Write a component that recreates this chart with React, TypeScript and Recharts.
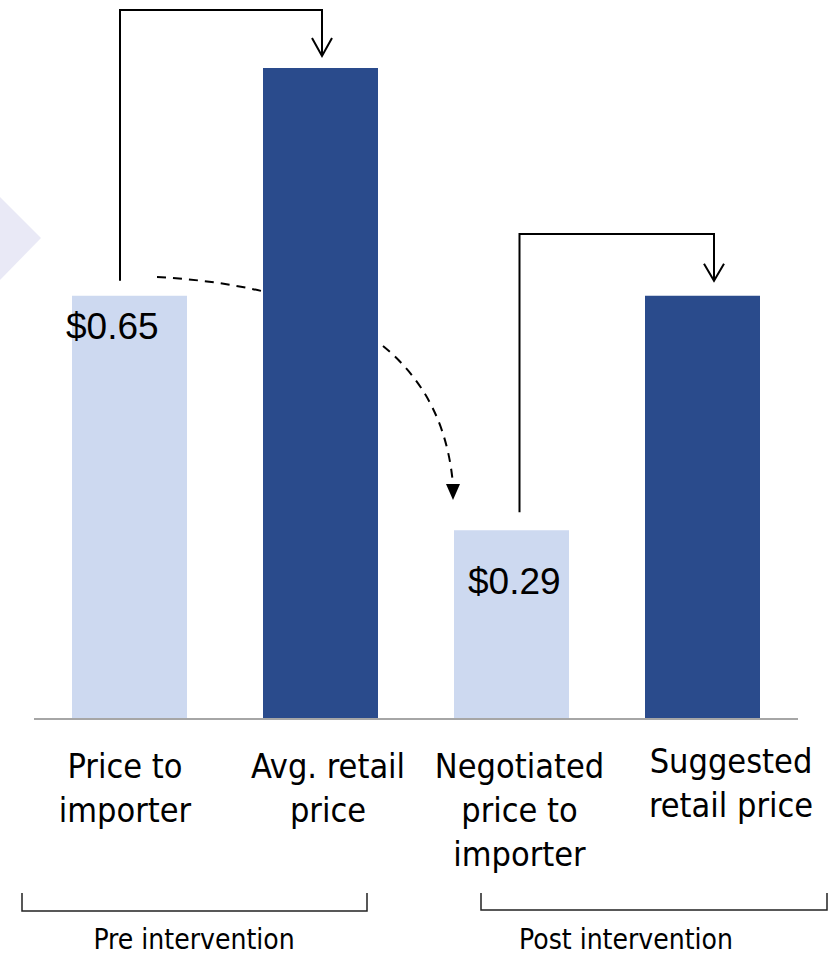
import { BarChart, Bar, XAxis, YAxis, Cell, LabelList } from "recharts";

const categories = [
  "Price to importer",
  "Avg. retail price",
  "Negotiated price to importer",
  "Suggested retail price",
];
const tickLines = [
  ["Price to", "importer"],
  ["Avg. retail", "price"],
  ["Negotiated", "price to", "importer"],
  ["Suggested", "retail price"],
];
const prices = [0.65, 1.0, 0.29, 0.65];
const priceLabels = ["$0.65", "", "$0.29", ""];
const phases = ["Pre intervention", "Post intervention"];

const LIGHT = "#CDD9F0";
const DARK = "#2A4B8C";
const barColors = [LIGHT, DARK, LIGHT, DARK];
const CONDENSED = "'DejaVu Sans Condensed', 'DejaVu Sans', sans-serif";

const W = 834;
const H = 959;
const M_LEFT = 34;
const M_RIGHT = 36;
const TOP = 68;
const BOTTOM = 719;
const BAR = 115;
const band = (W - M_LEFT - M_RIGHT) / categories.length;
const cx = (i: number) => M_LEFT + band * i + band / 2;
const yOf = (v: number) => BOTTOM - (BOTTOM - TOP) * v;

const data = categories.map((name, i) => ({ name, price: prices[i] }));

// nudges so the text sits where the slide put it
const tickDx = [-4.5, 7.5, 8, 28.5];
const tickDy = [0, 0, 0, -5];
const labelPos = [
  { dx: -6, dy: 43 },
  { dx: 0, dy: 0 },
  { dx: 14, dy: 64 },
  { dx: 0, dy: 0 },
];

const CatTick = (props: any) => {
  const { x, index } = props;
  const lines = tickLines[index] || [];
  return (
    <text
      x={x + tickDx[index]}
      y={BOTTOM + 59 + tickDy[index]}
      textAnchor="middle"
      fill="#000"
      fontSize={34}
      fontFamily={CONDENSED}
      style={{ fontStretch: "condensed" }}
    >
      {lines.map((l, k) => (
        <tspan key={k} x={x + tickDx[index]} dy={k === 0 ? 0 : 44}>
          {l}
        </tspan>
      ))}
    </text>
  );
};

const PriceLabel = (props: any) => {
  const { x, y, index } = props;
  const t = priceLabels[index];
  if (!t) return null;
  return (
    <text
      x={x + labelPos[index].dx}
      y={y + labelPos[index].dy}
      fill="#000"
      fontSize={37}
      fontFamily="'Liberation Sans', Arial, sans-serif"
    >
      {t}
    </text>
  );
};

function Annotations() {
  const a = cx(0) - 9.5;
  const b = cx(1) + 1.5;
  const c = cx(2) + 8;
  const d = cx(3) + 11.5;
  const top1 = yOf(1) - 12;
  const top4 = yOf(prices[3]) - 15;
  return (
    <svg width={W} height={H} style={{ position: "absolute", left: 0, top: 0 }}>
      <polygon points="0,197 41,238 0,280" fill="#E9E9F6" />
      <g fill="none" stroke="#000" strokeWidth={2}>
        <path d={`M${a},${yOf(prices[0]) - 15} V10 H${b} V${top1}`} />
        <path d={`M${b - 10},${top1 - 18} L${b},${top1} L${b + 10},${top1 - 18}`} />
        <path d={`M${c},${yOf(prices[2]) - 18} V234 H${d} V${top4}`} />
        <path d={`M${d - 10},${top4 - 17} L${d},${top4} L${d + 10},${top4 - 17}`} />
        <path d="M157,277 C300,285 440,330 453,485" strokeDasharray="9 7" />
      </g>
      <polygon points="446,484 460,484 453,500" fill="#000" />
      <g fill="none" stroke="#222" strokeWidth={1.5}>
        <path d="M22,893 V911 H367 V893" />
        <path d="M481,893 V910 H827 V893" />
      </g>
      <g
        fontFamily={CONDENSED}
        style={{ fontStretch: "condensed" }}
        fontSize={28}
        fill="#000"
        textAnchor="middle"
      >
        <text x={194} y={949}>{phases[0]}</text>
        <text x={626} y={949}>{phases[1]}</text>
      </g>
    </svg>
  );
}

export default function App() {
  return (
    <div style={{ position: "absolute", left: 0, top: 0, width: W, height: H, background: "#fff" }}>
      <Annotations />
      <div style={{ position: "absolute", left: 0, top: 0 }}>
        <BarChart
          width={W}
          height={H}
          data={data}
          margin={{ top: TOP, right: M_RIGHT, bottom: 40, left: M_LEFT }}
        >
          <YAxis hide domain={[0, 1]} />
          <XAxis
            dataKey="name"
            height={H - 40 - BOTTOM}
            axisLine={{ stroke: "#A6A6A6", strokeWidth: 2 }}
            tickLine={false}
            tick={<CatTick />}
            interval={0}
          />
          <Bar dataKey="price" barSize={BAR} isAnimationActive={false}>
            {data.map((_, i) => (
              <Cell key={i} fill={barColors[i]} />
            ))}
            <LabelList dataKey="price" content={<PriceLabel />} />
          </Bar>
        </BarChart>
      </div>
    </div>
  );
}
